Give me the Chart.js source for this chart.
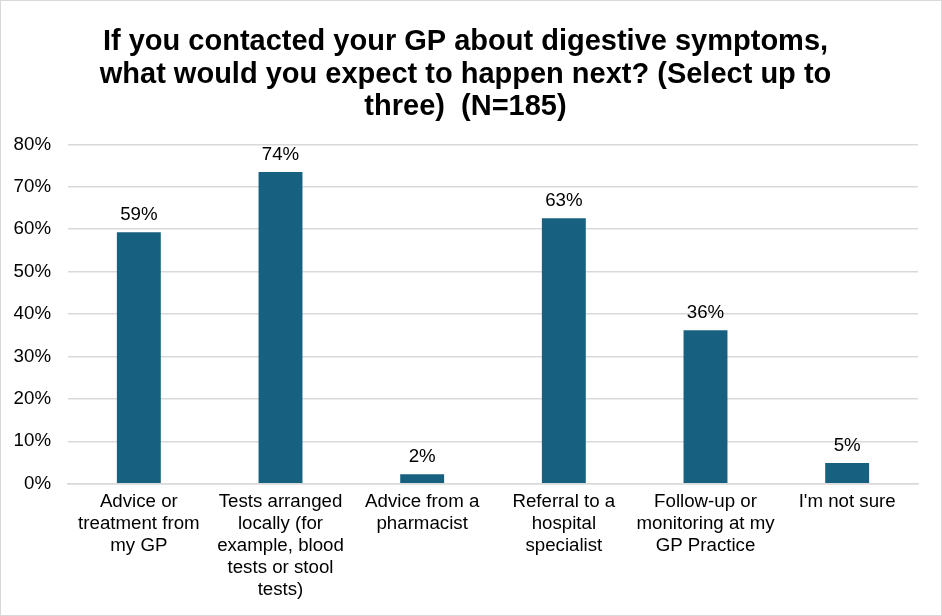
<!DOCTYPE html>
<html><head><meta charset="utf-8">
<script src="https://cdn.jsdelivr.net/npm/chart.js@4/dist/chart.umd.min.js"></script>
<style>
html,body{margin:0;padding:0;background:#fff;}
#wrap{position:relative;width:940px;height:614px;border:1px solid #d9d9d9;}
canvas{display:block;}
</style></head>
<body>
<div id="wrap"><canvas id="c" width="940" height="614"></canvas></div>
<script>
const categories = [
  ["Advice or", "treatment from", "my GP"],
  ["Tests arranged", "locally (for", "example, blood", "tests or stool", "tests)"],
  ["Advice from a", "pharmacist"],
  ["Referral to a", "hospital", "specialist"],
  ["Follow-up or", "monitoring at my", "GP Practice"],
  ["I'm not sure"]
];
const percentValues = [59.3, 73.5, 2.2, 62.6, 36.2, 4.9];
const yTicks = [0, 10, 20, 30, 40, 50, 60, 70, 80];
const titleLines = [
  "If you contacted your GP about digestive symptoms,",
  "what would you expect to happen next? (Select up to",
  "three)  (N=185)"
];

const FONT = "'Liberation Sans', Arial, sans-serif";

const valueLabels = {
  id: 'valueLabels',
  afterDatasetsDraw(chart) {
    const ctx = chart.ctx;
    const meta = chart.getDatasetMeta(0);
    ctx.save();
    ctx.font = "18.7px " + FONT;
    ctx.fillStyle = "#000";
    ctx.textAlign = "center";
    ctx.textBaseline = "bottom";
    meta.data.forEach((bar, i) => {
      ctx.fillText(Math.round(percentValues[i]) + "%", bar.x, bar.y - 8);
    });
    ctx.restore();
  }
};

new Chart(document.getElementById('c'), {
  type: 'bar',
  data: {
    labels: categories,
    datasets: [{
      data: percentValues,
      backgroundColor: '#17607F',
      categoryPercentage: 1,
      barPercentage: 0.31
    }]
  },
  options: {
    responsive: false,
    animation: false,
    layout: { padding: { left: 12, right: 23, top: 0, bottom: 7 } },
    plugins: {
      legend: { display: false },
      tooltip: { enabled: false },
      title: {
        display: true,
        text: titleLines,
        color: '#000',
        font: { family: FONT, size: 29, weight: 'bold', lineHeight: 1.12 },
        padding: { top: 25, bottom: 21 }
      }
    },
    scales: {
      y: {
        min: 0, max: 80,
        afterBuildTicks(axis) { axis.ticks = yTicks.map(v => ({ value: v })); },
        afterFit(axis) { axis.width = 55; },
        ticks: {
          callback: v => v + '%',
          color: '#000',
          font: { family: FONT, size: 18.7 },
          padding: 17
        },
        grid: { color: '#d9d9d9', lineWidth: 1.5, drawTicks: false },
        border: { display: false }
      },
      x: {
        ticks: {
          color: '#000',
          font: { family: FONT, size: 18.7, lineHeight: 1.18 },
          maxRotation: 0, minRotation: 0, autoSkip: false,
          padding: 7
        },
        grid: { display: false, drawTicks: false },
        border: { display: true, color: '#d9d9d9', width: 1.5 }
      }
    }
  },
  plugins: [valueLabels]
});
</script>
</body></html>
